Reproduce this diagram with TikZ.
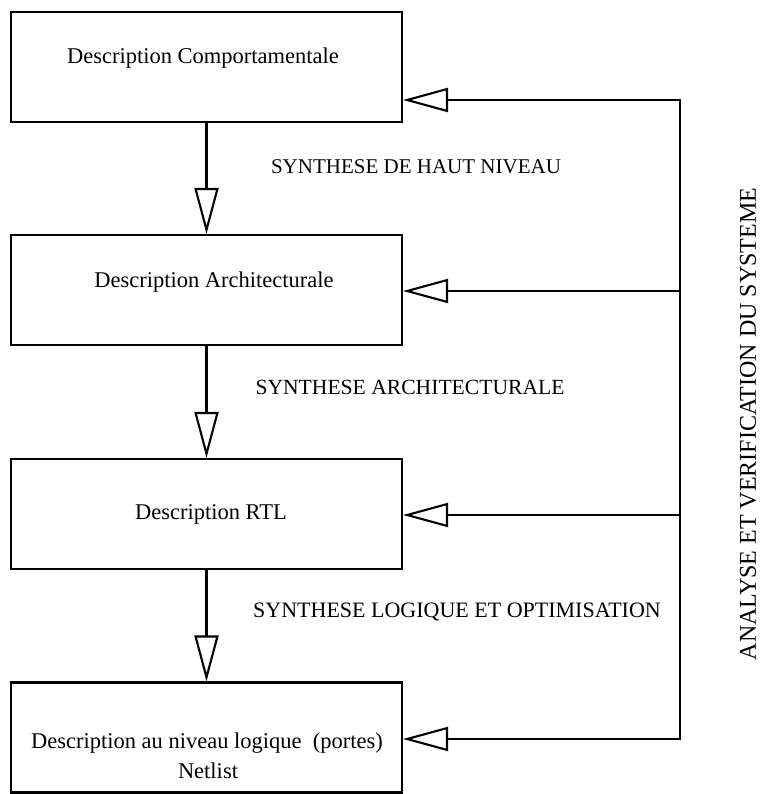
\documentclass[tikz,border=0pt]{standalone}
\usepackage{fontspec}
\setmainfont{Liberation Serif}
\usetikzlibrary{arrows.meta}

\tikzset{
  stagebox/.style={draw, line width=2.1pt, minimum width=391pt, minimum height=110pt, inner sep=0pt},
  boxtext/.style={font=\fontsize{22.5}{26}\selectfont, inner sep=0pt},
  steptext/.style={font=\fontsize{21}{25}\selectfont, inner sep=0pt},
  flow/.style={line width=2.1pt, -{Triangle[open, length=46pt, width=24pt]}},
  feedback/.style={line width=2.1pt, -{Triangle[open, length=45pt, width=24pt]}},
  plain/.style={line width=2.1pt}
}

\begin{document}
\begin{tikzpicture}[x=1pt, y=-1pt]
  \useasboundingbox (0,0) rectangle (766,794);

  % design levels
  \node[stagebox] (b1) at (206.5,67) {};
  \node[stagebox] (b2) at (206.5,290) {};
  \node[stagebox] (b3) at (206.5,514) {};
  \node[stagebox] (b4) at (206.5,737.5) {};

  \node[boxtext] (t1) at (203,58) {Description Comportamentale};
  \node[boxtext] (t2) at (214,282) {Description Architecturale};
  \node[boxtext] (t3) at (211,514) {Description RTL};
  \node[boxtext] (t4) at (207,743) {Description au niveau logique\ \ (portes)};
  \node[boxtext] (t5) at (208,771) {Netlist};

  % synthesis steps
  \draw[flow] (b1.south) -- (b2.north);
  \draw[flow] (b2.south) -- (b3.north);
  \draw[flow] (b3.south) -- (b4.north);

  \node[steptext] (s1) at (416,167) {SYNTHESE DE HAUT NIVEAU};
  \node[steptext, font=\fontsize{21.6}{25}\selectfont] (s2) at (410,387) {SYNTHESE ARCHITECTURALE};
  \node[steptext, font=\fontsize{22}{25}\selectfont] (s3) at (457,612) {SYNTHESE LOGIQUE ET OPTIMISATION};

  % analysis and verification loop
  \coordinate (r1) at (680,100);
  \coordinate (r2) at (680,291);
  \coordinate (r3) at (680,515);
  \coordinate (r4) at (680,739);

  \draw[feedback] (r2) -- (r1) -- (r1 -| b1.east);
  \draw[feedback] (r2) -- (r2 -| b2.east);
  \draw[plain] (r2) -- (r3);
  \draw[feedback] (r3) -- (r3 -| b3.east);
  \draw[feedback] (r3) -- (r4) -- (r4 -| b4.east);

  \node[boxtext, font=\fontsize{24}{28}\selectfont, rotate=90] (v) at (748,424) {ANALYSE ET VERIFICATION DU SYSTEME};
\end{tikzpicture}
\end{document}
